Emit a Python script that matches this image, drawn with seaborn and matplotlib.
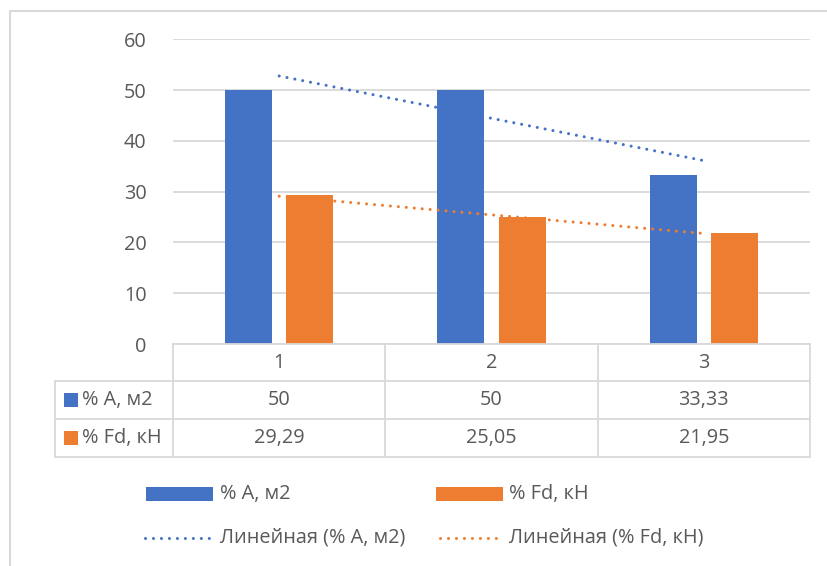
import numpy as np
import pandas as pd
import matplotlib
matplotlib.use("Agg")
import matplotlib.pyplot as plt
from matplotlib.patches import Rectangle
from matplotlib.lines import Line2D
import seaborn as sns

# ---- data ----
categories = ["1", "2", "3"]
series_names = ["% A, м2", "% Fd, кН"]
values_a = [50, 50, 33.33]
values_fd = [29.29, 25.05, 21.95]
table_a = ["50", "50", "33,33"]
table_fd = ["29,29", "25,05", "21,95"]
trend_names = ["Линейная (% A, м2)", "Линейная (% Fd, кН)"]
yticks = [0, 10, 20, 30, 40, 50, 60]

colors = ["#4472C4", "#ED7D31"]
grid_c = "#D9D9D9"
text_c = "#595959"

sns.set_theme(style="white")
plt.rcParams["font.family"] = ["Open Sans", "DejaVu Sans"]
FS = 14.3

W, H = 827, 566
fig = plt.figure(figsize=(W / 100, H / 100), dpi=100)
fig.patch.set_facecolor("white")

# main plot area in pixels
L, R, T, B = 173, 810, 39.3, 344
ax = fig.add_axes([L / W, (H - B) / H, (R - L) / W, (B - T) / H])

df = pd.DataFrame({
    "cat": categories * 2,
    "val": values_a + values_fd,
    "series": [series_names[0]] * len(categories) + [series_names[1]] * len(categories),
})
sns.barplot(data=df, x="cat", y="val", hue="series", palette=colors,
            width=0.576, gap=0.229, linewidth=0, saturation=1, ax=ax, legend=False)

for i, cont in enumerate(ax.containers):
    for p in cont:
        p.set_zorder(2 + 2 * i)

# linear trendlines
xs = np.arange(len(categories))
dot_style = dict(linestyle=(0, (0.01, 2.6)), linewidth=2.2, dash_capstyle="round")
for i, vals in enumerate([values_a, values_fd]):
    k, b = np.polyfit(xs, vals, 1)
    ax.plot(xs, k * xs + b, color=colors[i], zorder=1.5 + 2 * i, **dot_style)

ax.set_xlim(-0.5, len(categories) - 0.5)
ax.set_ylim(0, 60)
ax.set_yticks(yticks)
ax.set_yticklabels([str(t) for t in yticks], color=text_c, fontsize=FS)
ax.tick_params(axis="y", length=0, pad=19)
ax.set_xticks([])
ax.set_xlabel("")
ax.set_ylabel("")
for s in ax.spines.values():
    s.set_visible(False)
ax.yaxis.grid(True, color=grid_c, linewidth=1.3)
ax.set_axisbelow(True)
ax.set_facecolor("none")

# overlay for frame, table, legend (pixel coordinates)
ov = fig.add_axes([0, 0, 1, 1], zorder=5)
ov.set_xlim(0, W)
ov.set_ylim(H, 0)
ov.axis("off")
ov.patch.set_alpha(0)

lw = 1.3
# outer chart frame
ov.plot([10, 10, W + 5], [H + 5, 11, 11], color=grid_c, lw=1.5)

# table
n = len(categories)
colw = (R - L) / n
xb = [L + i * colw for i in range(n + 1)]
tl = 55
r0, r1, r2, r3 = 344, 381, 419, 457
ov.plot([L, R], [r0, r0], color=grid_c, lw=lw)
for y in (r1, r2, r3):
    ov.plot([tl, R], [y, y], color=grid_c, lw=lw)
ov.plot([tl, tl], [r1, r3], color=grid_c, lw=lw)
for x in xb:
    ov.plot([x, x], [r0, r3], color=grid_c, lw=lw)

for i, c in enumerate(categories):
    cx = (xb[i] + xb[i + 1]) / 2
    ov.text(cx, (r0 + r1) / 2, c, ha="center", va="center", fontsize=FS, color=text_c)
    ov.text(cx, (r1 + r2) / 2, table_a[i], ha="center", va="center", fontsize=FS, color=text_c)
    ov.text(cx, (r2 + r3) / 2, table_fd[i], ha="center", va="center", fontsize=FS, color=text_c)

for j, (name, yc) in enumerate([(series_names[0], (r1 + r2) / 2), (series_names[1], (r2 + r3) / 2)]):
    ov.add_patch(Rectangle((64, yc - 7), 14, 14, color=colors[j], lw=0))
    ov.text(82, yc, name, ha="left", va="center", fontsize=FS, color=text_c)

# legend
leg_y1, leg_y2 = 494, 538
ov.add_patch(Rectangle((146, leg_y1 - 7), 67, 14, color=colors[0], lw=0))
ov.text(220, leg_y1, series_names[0], ha="left", va="center", fontsize=FS, color=text_c)
ov.add_patch(Rectangle((436, leg_y1 - 7), 67, 14, color=colors[1], lw=0))
ov.text(509, leg_y1, series_names[1], ha="left", va="center", fontsize=FS, color=text_c)

ov.add_line(Line2D([145, 213], [leg_y2, leg_y2], color=colors[0], **dot_style))
ov.text(220, leg_y2, trend_names[0], ha="left", va="center", fontsize=FS, color=text_c)
ov.add_line(Line2D([440, 502], [leg_y2, leg_y2], color=colors[1], **dot_style))
ov.text(509, leg_y2, trend_names[1], ha="left", va="center", fontsize=FS, color=text_c)

fig.savefig("out.png", dpi=100, facecolor="white")
